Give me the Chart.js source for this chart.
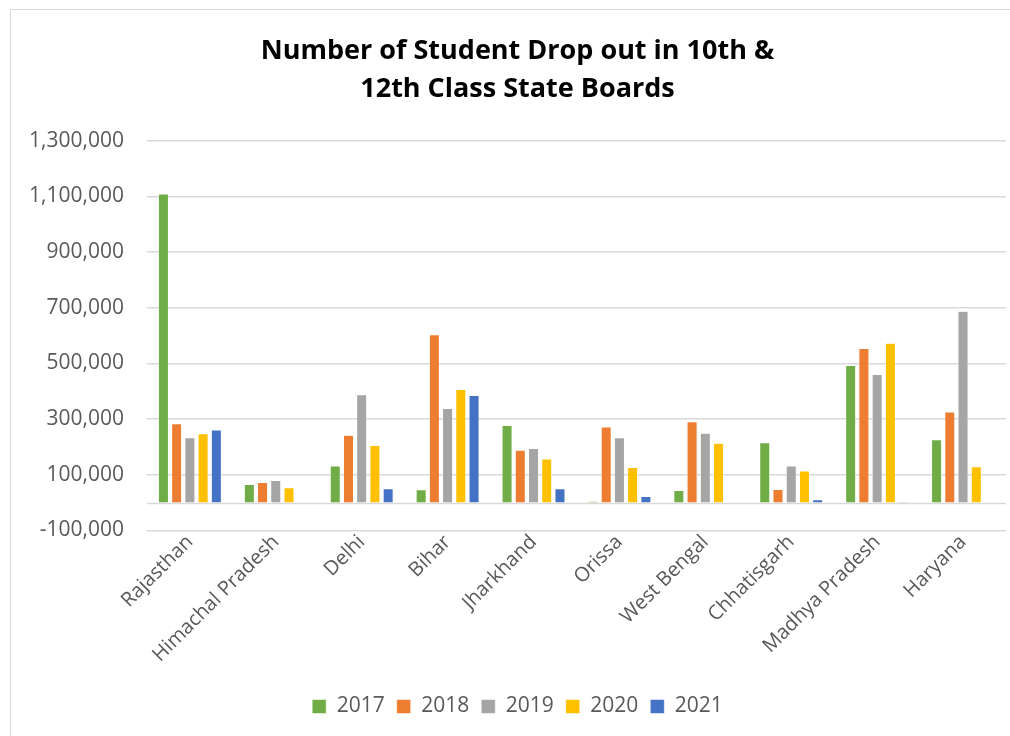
<!DOCTYPE html>
<html>
<head>
<meta charset="utf-8">
<script src="https://cdn.jsdelivr.net/npm/chart.js@4"></script>
<style>
  html, body { margin: 0; padding: 0; background: #fff; overflow: hidden; }
  #box {
    position: absolute; left: 10px; top: 9px;
    width: 1010px; height: 740px;
    border-left: 1px solid #d9d9d9; border-top: 1px solid #d9d9d9;
  }
  #wrap { position: absolute; left: 0; top: 0; width: 1000px; height: 727px; }
</style>
</head>
<body>
<div id="box"><div id="wrap"><canvas id="chartDrop"></canvas></div></div>
<script>
const TICK = "#595959", GRID = "#d9d9d9";
const FONT = "'Open Sans', 'Noto Sans', sans-serif";

const states = ["Rajasthan", "Himachal Pradesh", "Delhi", "Bihar", "Jharkhand",
  "Orissa", "West Bengal", "Chhatisgarh", "Madhya Pradesh", "Haryana"];
const years = ["2017", "2018", "2019", "2020", "2021"];
const colors = ["#70ad47", "#ed7d31", "#a5a5a5", "#ffc000", "#4472c4"];

const y2017 = [1108000, 65000, 131000, 46000, 277000, 5000, 43000, 215000, 492000, 226000];
const y2018 = [283000, 72000, 242000, 603000, 188000, 271000, 290000, 47000, 553000, 325000];
const y2019 = [233000, 79000, 387000, 338000, 194000, 233000, 249000, 131000, 460000, 687000];
const y2020 = [247000, 53000, 205000, 406000, 156000, 126000, 213000, 113000, 572000, 129000];
const y2021 = [261000, null, 50000, 385000, 50000, 22000, null, 10000, 2000, null];
const series = [y2017, y2018, y2019, y2020, y2021];

const yMin = -100000, yMax = 1300000, yStep = 200000;

// line at zero, drawn through the y scale
const zeroLine = {
  id: "zeroLine",
  beforeDatasetsDraw(chart) {
    const {ctx, chartArea, scales} = chart;
    const y = Math.round(scales.y.getPixelForValue(0)) + 0.5;
    ctx.save();
    ctx.strokeStyle = GRID;
    ctx.lineWidth = 1.5;
    ctx.beginPath();
    ctx.moveTo(chartArea.left, y);
    ctx.lineTo(chartArea.right, y);
    ctx.stroke();
    ctx.restore();
  }
};

new Chart(document.getElementById("chartDrop"), {
  type: "bar",
  data: {
    labels: states,
    datasets: series.map((d, i) => ({
      label: years[i],
      data: d,
      backgroundColor: colors[i],
      borderColor: "#fff",
      borderWidth: 0.5,
      categoryPercentage: 0.77,
      barPercentage: 0.76
    }))
  },
  options: {
    responsive: true,
    maintainAspectRatio: false,
    animation: false,
    layout: {padding: {left: 18, right: 5, top: 22, bottom: 10}},
    plugins: {
      title: {
        display: true,
        text: ["Number of Student Drop out in 10th &", "12th Class State Boards"],
        color: "#000",
        font: {family: FONT, size: 27, weight: "bold", lineHeight: 1.42},
        padding: {top: 0, bottom: 32}
      },
      legend: {
        position: "bottom",
        labels: {
          color: TICK,
          font: {family: FONT, size: 21},
          boxWidth: 14, boxHeight: 14,
          padding: 12
        }
      },
      tooltip: {enabled: false}
    },
    scales: {
      x: {
        grid: {display: false, drawTicks: false},
        border: {display: false},
        ticks: {
          color: TICK, font: {family: FONT, size: 20},
          maxRotation: 45, minRotation: 45, autoSkip: false, padding: 0
        },
        // let the first rotated label hang left of the plot, leave room above the legend
        afterFit(scale) { scale.paddingLeft = 0; scale.height += 17; }
      },
      y: {
        min: yMin, max: yMax,
        grid: {color: GRID, lineWidth: 1.5, drawTicks: false},
        border: {display: false},
        ticks: {
          stepSize: yStep, color: TICK, font: {family: FONT, size: 21}, padding: 23,
          callback: v => v.toLocaleString("en-US")
        },
        afterFit(scale) { scale.width -= scale.options.ticks.padding; }
      }
    }
  },
  plugins: [zeroLine]
});
</script>
</body>
</html>
